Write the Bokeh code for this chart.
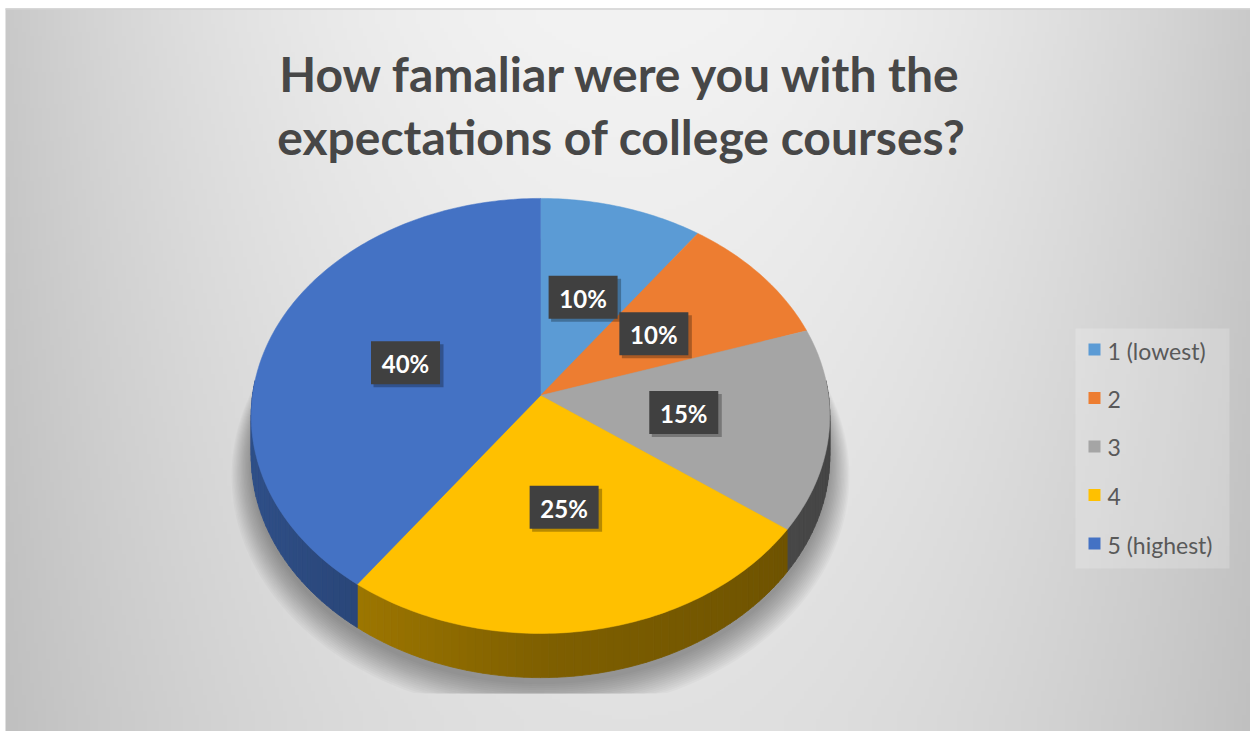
import numpy as np
from bokeh.plotting import figure
from bokeh.models import Range1d
from bokeh.core.properties import value
from bokeh.embed import file_html
from bokeh.resources import INLINE

# ---------------- data ----------------
categories = ["1 (lowest)", "2", "3", "4", "5 (highest)"]
shares = [10, 10, 15, 25, 40]
pct_labels = ["10%", "10%", "15%", "25%", "40%"]
colors = ["#5B9BD5", "#ED7D31", "#A5A5A5", "#FFC000", "#4472C4"]
title_lines = ["How famaliar were you with the", "expectations of college courses?"]

# ---------------- layout ----------------
W, H = 1250, 731
FONT = "Lato"
AX0, AY0, AX1, AY1 = 5, 8, 1250, 731  # chart area (page px)


def Y(py):
    return H - np.asarray(py, dtype=float)


p = figure(width=W, height=H, x_range=Range1d(0, W), y_range=Range1d(0, H),
           output_backend="svg", toolbar_location=None, min_border=0,
           x_axis_location=None, y_axis_location=None)
p.grid.visible = False
p.outline_line_color = None
p.background_fill_color = "white"
p.border_fill_color = "white"

# background gradient for the chart area
ny, nx = 180, 310
xs_bg = np.linspace(AX0, AX1, nx)
py_bg = np.linspace(AY1, AY0, ny)  # row 0 at the bottom
XX, PY = np.meshgrid(xs_bg, py_bg)
u = (XX - 630) / 625.0
w = np.clip((PY - 20) / 700.0, 0, 1)
v = 243 - 42 * u ** 2 - 18 * w * (1 - 0.5 * u ** 2)
v = np.clip(v, 0, 255).astype(np.uint8)
img = np.empty((ny, nx), dtype=np.uint32)
view = img.view(dtype=np.uint8).reshape((ny, nx, 4))
view[:, :, 0] = v
view[:, :, 1] = v
view[:, :, 2] = v
view[:, :, 3] = 255
p.image_rgba(image=[img], x=AX0, y=H - AY1, dw=AX1 - AX0, dh=AY1 - AY0)
p.line([AX0, AX1], Y([AY0 + 0.5, AY0 + 0.5]), line_color="#D2D2D2", line_width=1.5)

# ---------------- pie geometry ----------------
CX, CY = 540.0, 395.0
A, B, PA = 288.0, 215.6, 0.094
DEPTH = 40.0


def proj(theta_deg, r=1.0, h=0.0):
    t = np.radians(theta_deg)
    Xr = r * np.sin(t)
    Zr = r * np.cos(t)
    s = 1.0 / (1.0 + PA * Zr)
    return CX + A * Xr * s, CY - B * Zr * s + h * s


def shade(hexcol, f):
    hexcol = hexcol.lstrip("#")
    rgb = [int(hexcol[i:i + 2], 16) for i in (0, 2, 4)]
    return "#%02x%02x%02x" % tuple(int(max(0, min(255, c * f))) for c in rgb)


total = float(sum(shares))
ends = np.cumsum(shares) / total * 360.0
starts = np.concatenate([[0.0], ends[:-1]])

# soft shadow
for k in range(16):
    th = np.linspace(0, 360, 181)
    sx, sy = proj(th, r=1.0 + 0.0045 * k, h=DEPTH + 6 + 0.7 * k)
    sy = np.minimum(sy, 693)
    p.patch(sx, Y(sy), fill_color="black", fill_alpha=0.022, line_color=None)

# sides (front half only)
side_xs, side_ys, side_cols = [], [], []
for st, en, col in zip(starts, ends, colors):
    a0, a1 = max(st, 86.0), min(en, 274.0)
    if a1 <= a0:
        continue
    n = max(2, int((a1 - a0) / 1.5))
    th = np.linspace(a0, a1, n + 1)
    for t1, t2 in zip(th[:-1], th[1:]):
        tm = np.radians(0.5 * (t1 + t2))
        if tm >= np.pi:
            f = 0.5 + 0.2 * (-np.sin(tm))
        else:
            f = 0.5 + 0.08 * (-np.sin(tm))
        x1, y1 = proj(t1)
        x2, y2 = proj(t2)
        x3, y3 = proj(t2, h=DEPTH)
        x4, y4 = proj(t1, h=DEPTH)
        side_xs.append([x1, x2, x3, x4])
        side_ys.append(list(Y([y1, y2, y3, y4])))
        side_cols.append(shade(col, f))
p.patches(side_xs, side_ys, fill_color=side_cols, line_color=side_cols, line_width=0.8)

# top surfaces
top_xs, top_ys = [], []
for st, en in zip(starts, ends):
    th = np.linspace(st, en, int(en - st) + 2)
    ax, ay = proj(th)
    top_xs.append(np.concatenate([[CX], ax]))
    top_ys.append(Y(np.concatenate([[CY], ay])))
p.patches(top_xs, top_ys, fill_color=colors, line_color=colors, line_width=0.5)

# data labels
mids = 0.5 * (starts + ends)
lx, ly = proj(mids, r=0.5)
p.rect(lx + 3, Y(ly + 3), width=70, height=43, fill_color="black", fill_alpha=0.28,
       line_color=None)
p.rect(lx, Y(ly), width=69, height=43, fill_color="#404040", line_color=None)
p.text(lx, Y(ly + 1), text=pct_labels, text_align="center", text_baseline="middle",
       text_color="white", text_font=value(FONT), text_font_style="bold",
       text_font_size="24px")

# legend
leg_y = 349 + 48.5 * np.arange(len(categories))
p.rect([1152], Y([448]), width=154, height=240, fill_color="white", fill_alpha=0.2,
       line_color=None)
p.rect(np.full(len(categories), 1094.0), Y(leg_y), width=12, height=12,
       fill_color=colors, line_color=None)
p.text(np.full(len(categories), 1107.0), Y(leg_y + 1), text=categories, text_align="left",
       text_baseline="middle", text_color="#595959", text_font=value(FONT),
       text_font_size="23px")

# title
p.text([621, 621], Y([73, 136]), text=title_lines, text_align="center",
       text_baseline="alphabetic", text_color="#474747", text_font=value(FONT),
       text_font_style="bold", text_font_size="48px")

open("out.html", "w").write(file_html(p, INLINE))
